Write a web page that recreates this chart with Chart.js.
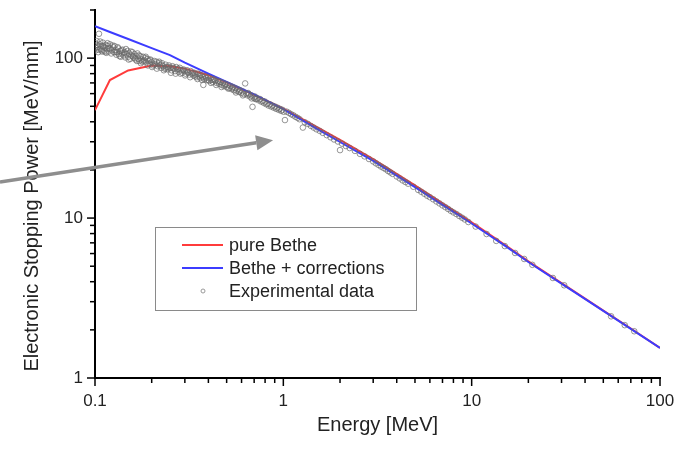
<!DOCTYPE html>
<html lang="en">
<head>
<meta charset="UTF-8">
<title>Electronic Stopping Power</title>
<script src="https://cdn.jsdelivr.net/npm/chart.js"></script>
<style>
  html, body { margin: 0; padding: 0; background: #fff; }
  #wrap { width: 681px; height: 455px; }
</style>
</head>
<body>
<div id="wrap"><canvas id="chart" width="681" height="455"></canvas></div>
<script>
// model curves, energy in MeV, stopping power in MeV/mm
const modelEnergy = [0.1, 0.12, 0.15, 0.2, 0.25, 0.3, 0.4, 0.5, 0.7, 1, 1.5, 2, 3, 5, 7, 10, 15, 20, 30, 50, 70, 100];
const pureBethe   = [47.3, 72.9, 83.8, 90, 89, 86, 78.5, 70.5, 59, 48.3, 37.2, 30.8, 23.4, 16.0, 12.35, 9.4, 6.8, 5.36, 3.92, 2.64, 2.04, 1.54];
const betheCorr   = [158.5, 145.8, 131.8, 115.6, 104.4, 93.7, 80.1, 71.1, 59.4, 48, 36.2, 29.9, 22.8, 15.6, 12.1, 9.25, 6.73, 5.31, 3.89, 2.63, 2.03, 1.54];

// experimental points
const expEnergy = [
  0.100, 0.101, 0.102, 0.103, 0.104, 0.105, 0.106, 0.107, 0.108, 0.109,
  0.110, 0.111, 0.112, 0.113, 0.114, 0.115, 0.116, 0.117, 0.118, 0.120,
  0.121, 0.122, 0.123, 0.125, 0.126, 0.127, 0.129, 0.130, 0.131, 0.133,
  0.134, 0.136, 0.137, 0.139, 0.140, 0.142, 0.144, 0.145, 0.147, 0.149,
  0.150, 0.152, 0.154, 0.156, 0.158, 0.160, 0.162, 0.164, 0.166, 0.168,
  0.170, 0.172, 0.174, 0.176, 0.178, 0.180, 0.183, 0.185, 0.187, 0.190,
  0.192, 0.195, 0.197, 0.200, 0.203, 0.206, 0.209, 0.212, 0.215, 0.218,
  0.221, 0.224, 0.227, 0.230, 0.234, 0.237, 0.240, 0.244, 0.247, 0.251,
  0.255, 0.258, 0.262, 0.266, 0.270, 0.274, 0.278, 0.282, 0.286, 0.290,
  0.295, 0.299, 0.303, 0.308, 0.312, 0.317, 0.322, 0.327, 0.332, 0.337,
  0.342, 0.347, 0.352, 0.358, 0.363, 0.368, 0.374, 0.376, 0.380, 0.385,
  0.391, 0.397, 0.404, 0.410, 0.416, 0.422, 0.429, 0.435, 0.442, 0.449,
  0.456, 0.463, 0.470, 0.477, 0.484, 0.492, 0.499, 0.507, 0.515, 0.523,
  0.531, 0.539, 0.547, 0.555, 0.564, 0.572, 0.581, 0.590, 0.599, 0.608,
  0.617, 0.627, 0.636, 0.646, 0.656, 0.666, 0.676, 0.686, 0.697, 0.707,
  0.718, 0.729, 0.740, 0.752, 0.763, 0.775, 0.787, 0.799, 0.811, 0.824,
  0.836, 0.849, 0.862, 0.875, 0.889, 0.902, 0.916, 0.930, 0.945, 0.959,
  0.974, 0.989, 1.004, 1.02, 1.04, 1.07, 1.10, 1.13, 1.16, 1.19,
  1.22, 1.27, 1.30, 1.35, 1.40, 1.45, 1.50, 1.56, 1.62, 1.70,
  1.78, 1.86, 1.95, 2.00, 2.05, 2.15, 2.25, 2.40, 2.55, 2.70,
  2.85, 3.0, 3.1, 3.2, 3.3, 3.4, 3.5, 3.6, 3.7, 3.8,
  4.0, 4.15, 4.3, 4.45, 4.6, 4.9, 5.2, 5.4, 5.6, 5.8,
  6.0, 6.25, 6.5, 6.75, 7.0, 7.25, 7.5, 7.75, 8.0, 8.3,
  8.6, 8.9, 9.2, 9.6, 10.5, 12, 13.5, 15, 17, 19,
  21, 27, 31, 55, 65, 73,
  0.1005, 0.1025, 0.1045, 0.1065, 0.1085, 0.1105, 0.1135, 0.1165, 0.119, 0.124,
  0.128, 0.132, 0.135, 0.138, 0.143, 0.146, 0.151, 0.155, 0.159, 0.163,
  0.167, 0.171, 0.175, 0.181, 0.186, 0.191, 0.196, 0.201, 0.207, 0.213,
  0.219, 0.225, 0.232, 0.238, 0.245, 0.253, 0.260, 0.268, 0.276, 0.284,
  0.293, 0.301, 0.310, 0.320, 0.330, 0.340, 0.350, 0.360, 0.370, 0.388,
  0.400, 0.413, 0.425, 0.440, 0.455, 0.470, 0.490, 0.510, 0.535, 0.560,
  0.585, 0.610, 0.650, 0.680, 0.710
];
const expPower = [
  124, 112, 128, 117, 109, 142, 122, 114, 119, 110,
  125, 118, 111, 116, 121, 108, 114, 119, 110, 122,
  115, 107, 112, 117, 109, 119, 112, 105, 109, 115,
  106, 111, 102, 107, 113, 104, 109, 101, 106, 111,
  102, 107, 99, 104, 109, 101, 106, 98, 103, 107,
  99, 96, 103, 98, 95, 102, 97, 100, 94, 99,
  96, 92, 98, 94, 90, 96, 92, 95, 89, 93,
  90, 87, 93, 89, 86, 91, 88, 85, 90, 87,
  84, 89, 86, 83, 88, 85, 82, 87, 84, 81,
  85, 83, 80, 84, 81, 79, 83, 80, 78, 81,
  79, 76, 80, 77, 75, 78, 76, 68, 74, 77,
  73, 76, 72, 75, 73, 71, 74, 72, 70, 72,
  69, 71, 68, 70, 67, 69, 66, 68, 65, 67,
  64, 66, 63, 65, 62.5, 64, 61.5, 63, 60.5, 62,
  59.5, 69.5, 60, 58.5, 59.5, 57.5, 58.5, 49.6, 56.5, 57.5,
  55.5, 56, 54.5, 55.5, 53.5, 54, 52.5, 53.5, 51.5, 52,
  50.5, 51.5, 49.8, 50.5, 49, 49.8, 48.2, 49, 47.5, 48.2,
  46.8, 47.5, 46.2, 41, 46.3, 45.5, 44.6, 43.9, 43.0, 42.3,
  41.5, 36.8, 39.7, 38.8, 37.7, 36.8, 35.9, 35.1, 34.1, 33.0,
  32.0, 31.0, 30.1, 26.6, 29.2, 28.2, 27.4, 26.3, 25.2, 24.3,
  23.4, 22.6, 22.0, 21.5, 21.0, 20.6, 20.2, 19.7, 19.3, 18.9,
  18.2, 17.7, 17.2, 16.8, 16.4, 15.7, 15.0, 14.6, 14.2, 13.8,
  13.5, 13.1, 12.7, 12.35, 12.0, 11.7, 11.4, 11.1, 10.85, 10.6,
  10.3, 10.05, 9.8, 9.45, 8.85, 7.95, 7.2, 6.68, 6.05, 5.55,
  5.1, 4.22, 3.8, 2.43, 2.14, 1.96,
  116, 121, 113, 127, 112, 119, 109, 124, 115, 120,
  109, 117, 103, 112, 108, 114, 98, 110, 103, 100,
  96, 104, 93, 96, 102, 90, 97, 88, 91, 86,
  95, 91, 84, 86, 88, 81, 87, 80, 86, 80,
  84, 78, 82, 76, 81, 77, 74, 79, 73, 75,
  73, 70, 73, 68, 71, 66, 68, 64.5, 65, 61,
  62, 58.5, 60.5, 56, 55.5
];

const seriesNames = ['pure Bethe', 'Bethe + corrections', 'Experimental data'];
const xMajorTicks = [0.1, 1, 10, 100];
const yMajorTicks = [1, 10, 100];

// annotation arrow, in data units (tail sits left of the axis)
const arrowTail = { x: 0.0313, y: 16.8 };
const arrowTip = { x: 0.882, y: 30.7 };

const FONT = "'Liberation Sans', Arial, sans-serif";

function toPoints(xs, ys) {
  return xs.map((v, i) => ({ x: v, y: ys[i] }));
}

// 1..9 times every decade between the major ticks
function logTicks(majors) {
  const out = [];
  for (let i = 0; i < majors.length; i++) {
    const m = majors[i];
    out.push(m);
    if (i < majors.length - 1) {
      for (let k = 2; k <= 9; k++) out.push(m * k);
    }
  }
  return out;
}

function isMajor(v, majors) {
  return majors.some(m => Math.abs(Math.log10(v) - Math.log10(m)) < 1e-6);
}

const decorations = {
  id: 'decorations',
  afterDraw(chart) {
    const { ctx, chartArea, scales } = chart;
    const xs = scales.x, ys = scales.y;
    ctx.save();

    // tick marks (outside)
    ctx.strokeStyle = '#000';
    ctx.lineWidth = 1.5;
    xs.ticks.forEach(t => {
      const px = xs.getPixelForValue(t.value);
      const len = isMajor(t.value, xMajorTicks) ? 8 : 5;
      ctx.beginPath();
      ctx.moveTo(px, chartArea.bottom);
      ctx.lineTo(px, chartArea.bottom + len);
      ctx.stroke();
    });
    ys.ticks.forEach(t => {
      const py = ys.getPixelForValue(t.value);
      const len = isMajor(t.value, yMajorTicks) ? 8 : 5;
      ctx.beginPath();
      ctx.moveTo(chartArea.left, py);
      ctx.lineTo(chartArea.left - len, py);
      ctx.stroke();
    });

    // axis titles
    ctx.fillStyle = '#222';
    ctx.font = '20px ' + FONT;
    ctx.textAlign = 'center';
    ctx.textBaseline = 'middle';
    ctx.fillText('Energy [MeV]', (chartArea.left + chartArea.right) / 2, 425);
    ctx.save();
    ctx.translate(32, 206);
    ctx.rotate(-Math.PI / 2);
    ctx.fillText('Electronic Stopping Power [MeV/mm]', 0, 0);
    ctx.restore();

    // legend box
    ctx.fillStyle = '#fff';
    ctx.fillRect(155, 227, 261, 83);
    ctx.strokeStyle = '#8a8a8a';
    ctx.lineWidth = 1;
    ctx.strokeRect(155.5, 227.5, 261, 83);
    ctx.font = '18px ' + FONT;
    ctx.textAlign = 'left';
    ctx.fillStyle = '#222';
    const rowY = [245, 268, 291];
    chart.data.datasets.forEach((ds, i) => {
      const y = rowY[i];
      if (ds.showLine) {
        ctx.strokeStyle = ds.borderColor;
        ctx.lineWidth = 2;
        ctx.beginPath();
        ctx.moveTo(182, y);
        ctx.lineTo(223, y);
        ctx.stroke();
      } else {
        ctx.strokeStyle = '#9a9a9a';
        ctx.lineWidth = 1;
        ctx.beginPath();
        ctx.arc(203, y, 2, 0, Math.PI * 2);
        ctx.stroke();
      }
      ctx.fillText(ds.label, 229, y + 1);
    });

    // grey arrow
    const x0 = xs.getPixelForValue(arrowTail.x), y0 = ys.getPixelForValue(arrowTail.y);
    const x1 = xs.getPixelForValue(arrowTip.x), y1 = ys.getPixelForValue(arrowTip.y);
    const ang = Math.atan2(y1 - y0, x1 - x0);
    const headLen = 17, headHalf = 7.5;
    const bx = x1 - headLen * Math.cos(ang), by = y1 - headLen * Math.sin(ang);
    ctx.strokeStyle = '#8e8e8e';
    ctx.fillStyle = '#8e8e8e';
    ctx.lineWidth = 3.5;
    ctx.beginPath();
    ctx.moveTo(x0, y0);
    ctx.lineTo(bx, by);
    ctx.stroke();
    ctx.beginPath();
    ctx.moveTo(x1, y1);
    ctx.lineTo(bx + headHalf * Math.sin(ang), by - headHalf * Math.cos(ang));
    ctx.lineTo(bx - headHalf * Math.sin(ang), by + headHalf * Math.cos(ang));
    ctx.closePath();
    ctx.fill();

    ctx.restore();
  }
};

const tickFont = { family: FONT, size: 17 };

new Chart(document.getElementById('chart'), {
  type: 'scatter',
  data: {
    datasets: [
      {
        label: seriesNames[0],
        data: toPoints(modelEnergy, pureBethe),
        showLine: true,
        borderColor: '#ff3b3b',
        borderWidth: 2,
        pointRadius: 0,
        tension: 0,
        order: 2
      },
      {
        label: seriesNames[1],
        data: toPoints(modelEnergy, betheCorr),
        showLine: true,
        borderColor: '#3c3cff',
        borderWidth: 2,
        pointRadius: 0,
        tension: 0,
        order: 1
      },
      {
        label: seriesNames[2],
        data: toPoints(expEnergy, expPower),
        showLine: false,
        pointRadius: 2.8,
        pointBorderWidth: 1,
        pointBorderColor: 'rgba(105,105,105,0.7)',
        pointBackgroundColor: 'rgba(0,0,0,0)',
        order: 0
      }
    ]
  },
  options: {
    responsive: false,
    animation: false,
    devicePixelRatio: 1,
    layout: { padding: { top: 10, right: 21, left: 0, bottom: 0 } },
    plugins: {
      legend: { display: false },
      tooltip: { enabled: false }
    },
    scales: {
      x: {
        type: 'logarithmic',
        position: 'bottom',
        min: 0.1,
        max: 100,
        afterBuildTicks: s => { s.ticks = logTicks(xMajorTicks).map(v => ({ value: v })); },
        afterFit: s => { s.height = 77; s.paddingLeft = 0; s.paddingRight = 0; },
        grid: { display: true, drawOnChartArea: false, drawTicks: false },
        border: { display: true, color: '#000', width: 2 },
        ticks: {
          autoSkip: false,
          maxRotation: 0,
          padding: 13,
          color: '#222',
          font: tickFont,
          callback: v => isMajor(v, xMajorTicks) ? String(Number(v.toPrecision(3))) : ''
        }
      },
      y: {
        type: 'logarithmic',
        position: 'left',
        min: 1,
        max: 200,
        afterBuildTicks: s => { s.ticks = logTicks([1, 10, 100, 1000]).filter(v => v <= 200).map(v => ({ value: v })); },
        afterFit: s => { s.width = 95; s.paddingTop = 0; s.paddingBottom = 0; },
        grid: { display: true, drawOnChartArea: false, drawTicks: false },
        border: { display: true, color: '#000', width: 2 },
        ticks: {
          autoSkip: false,
          padding: 12,
          color: '#222',
          font: tickFont,
          callback: v => isMajor(v, yMajorTicks) ? String(Number(v.toPrecision(3))) : ''
        }
      }
    }
  },
  plugins: [decorations]
});
</script>
</body>
</html>
